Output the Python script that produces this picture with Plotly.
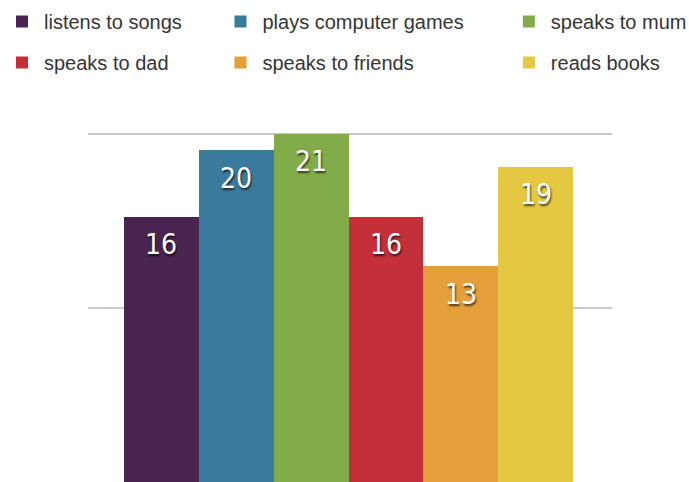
import plotly.graph_objects as go

# Survey: what the children like doing
activities = [
    "listens to songs",
    "plays computer games",
    "speaks to mum",
    "speaks to dad",
    "speaks to friends",
    "reads books",
]
counts = [16, 20, 21, 16, 13, 19]
colors = ["#4a2450", "#3a7b9d", "#82ac4a", "#c4303a", "#e49e3a", "#e4c842"]
# legend column for each activity (three columns, two rows)
legend_ids = ["legend", "legend2", "legend3", "legend", "legend2", "legend3"]
grid_values = [10.5, 21]

fig = go.Figure()
for name, val, col, leg in zip(activities, counts, colors, legend_ids):
    fig.add_trace(go.Bar(
        x=[name], y=[val], name=name,
        marker=dict(color=col, line=dict(width=0)),
        legend=leg, legendgroup=name,
        hovertemplate="%{x}: %{y}<extra></extra>",
    ))

label_font = dict(family="Liberation Sans Narrow, DejaVu Sans Condensed, Arial Narrow, Liberation Sans, sans-serif",
                  size=28, color="white", shadow="1px 2px 2px rgba(0,0,0,0.65)")
for name, val in zip(activities, counts):
    fig.add_annotation(x=name, y=val, text=str(val), showarrow=False,
                       yanchor="middle", yshift=-28, font=label_font)

legend_font = dict(family="Liberation Sans, Arial, sans-serif", size=20, color="#353535")
legend_common = dict(xref="container", yref="container", yanchor="top", xanchor="left",
                     y=1.0 - 2 / 482, orientation="v", tracegroupgap=12, itemwidth=34,
                     font=legend_font, bgcolor="rgba(0,0,0,0)", borderwidth=0)

fig.update_layout(
    width=689, height=482,
    margin=dict(l=88, r=77, t=117, b=0, autoexpand=False),
    paper_bgcolor="white", plot_bgcolor="white",
    barmode="overlay", bargap=0,
    showlegend=True,
    legend=dict(x=0.0, **legend_common),
    legend2=dict(x=0.32 - 2 / 689, **legend_common),
    legend3=dict(x=0.74 - 3 / 689, **legend_common),
    xaxis=dict(type="category", range=[-0.98, 6.02], showticklabels=False, showgrid=False,
               zeroline=False, showline=False, ticks=""),
    yaxis=dict(range=[0, 22], tickvals=grid_values, showticklabels=False,
               showgrid=True, gridcolor="#c9c9c9", gridwidth=2,
               zeroline=False, showline=False, ticks=""),
)

fig.write_html("out.html")
